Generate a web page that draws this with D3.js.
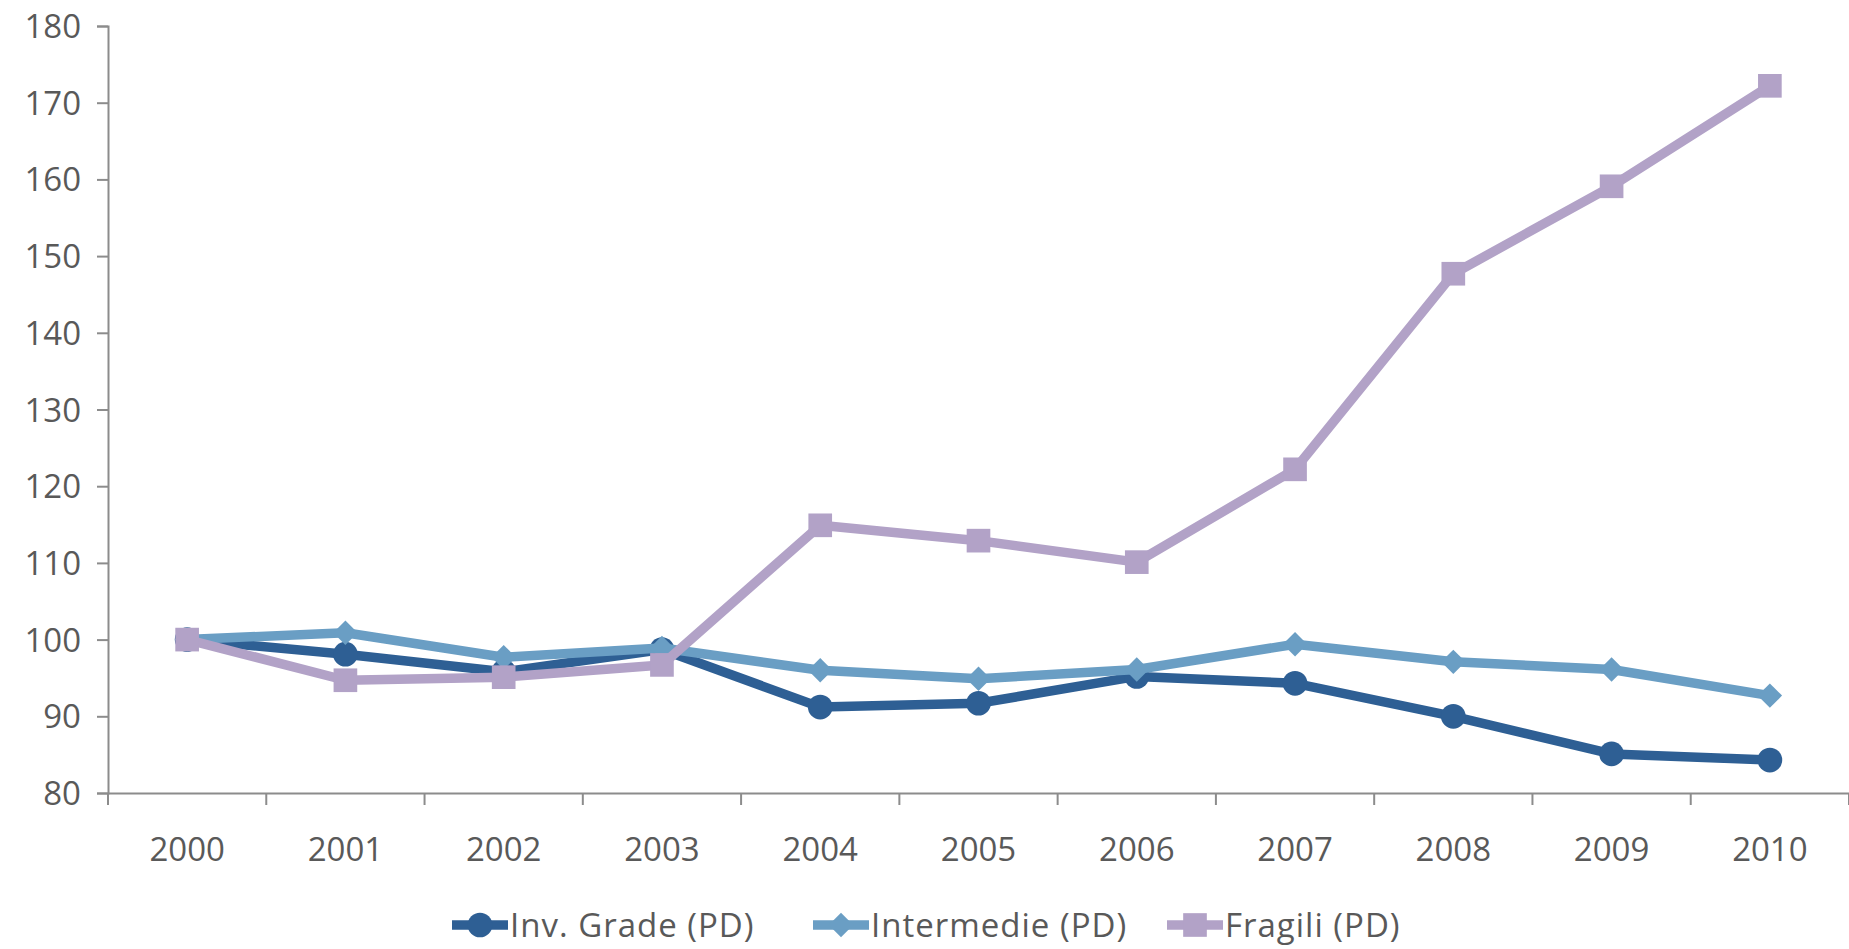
<!DOCTYPE html>
<html>
<head>
<meta charset="utf-8">
<script src="https://cdn.jsdelivr.net/npm/d3@7"></script>
<style>
  body { margin: 0; background: #fff; }
  text { font-family: "Open Sans", sans-serif; fill: #595959; }
</style>
</head>
<body>
<div id="chart"></div>
<script>
'use strict';

// Dati
var years = ['2000', '2001', '2002', '2003', '2004', '2005', '2006', '2007', '2008', '2009', '2010'];
var invGrade = [100, 98.1, 95.8, 98.7, 91.2, 91.7, 95.2, 94.3, 90.0, 85.1, 84.3];
var intermedie = [100, 100.9, 97.7, 98.9, 96.0, 94.9, 96.1, 99.4, 97.1, 96.1, 92.7];
var fragili = [100, 94.7, 95.1, 96.7, 114.9, 112.9, 110.1, 122.2, 147.7, 159.1, 172.2];
var seriesNames = ['Inv. Grade (PD)', 'Intermedie (PD)', 'Fragili (PD)'];
var yTicks = [80, 90, 100, 110, 120, 130, 140, 150, 160, 170, 180];

var series = [
  { name: seriesNames[0], values: invGrade, color: '#2E5F94', symbol: d3.symbolCircle, size: 480 },
  { name: seriesNames[1], values: intermedie, color: '#6A9EC4', symbol: d3.symbolDiamond2, size: 380 },
  { name: seriesNames[2], values: fragili, color: '#B2A2C7', symbol: d3.symbolSquare, size: 560 }
];

var width = 1849, height = 949;
var margin = { top: 26, right: 0, bottom: 156, left: 108 };

var svg = d3.select('#chart').append('svg')
  .attr('width', width).attr('height', height);

var x = d3.scaleBand().domain(years)
  .range([margin.left, width - margin.right]);
var y = d3.scaleLinear().domain([80, 180])
  .range([height - margin.bottom, margin.top]);

// Asse Y
var yAxis = svg.append('g')
  .attr('transform', 'translate(' + margin.left + ',0)')
  .call(d3.axisLeft(y).tickValues(yTicks).tickSize(11).tickPadding(16));
yAxis.selectAll('text').style('font-size', '33px').attr('dy', '0.35em');

// Asse X
var xAxis = svg.append('g')
  .attr('transform', 'translate(0,' + (height - margin.bottom) + ')')
  .call(d3.axisBottom(x).tickSize(0).tickPadding(45));
xAxis.selectAll('text').style('font-size', '33px');
xAxis.selectAll('.xtick')
  .data(years.concat(['end']))
  .enter().append('line')
  .attr('x1', function (d, i) { return margin.left + i * x.step(); })
  .attr('x2', function (d, i) { return margin.left + i * x.step(); })
  .attr('y1', 0).attr('y2', 12);

svg.selectAll('.domain, .tick line, g line')
  .attr('stroke', '#8C8C8C').attr('stroke-width', 2);

var line = d3.line()
  .x(function (d, i) { return x(years[i]) + x.bandwidth() / 2; })
  .y(function (d) { return y(d); });

// Linee e marcatori
series.forEach(function (s) {
  var g = svg.append('g');
  g.append('path')
    .attr('d', line(s.values))
    .attr('fill', 'none')
    .attr('stroke', s.color)
    .attr('stroke-width', 9.5)
    .attr('stroke-linejoin', 'round');
  g.selectAll('path.mk')
    .data(s.values)
    .enter().append('path')
    .attr('class', 'mk')
    .attr('d', d3.symbol().type(s.symbol).size(s.size))
    .attr('transform', function (d, i) {
      return 'translate(' + (x(years[i]) + x.bandwidth() / 2) + ',' + y(d) + ')';
    })
    .attr('fill', s.color);
});

// Legenda
var legendX = [452, 813, 1167];
var legend = svg.append('g').attr('transform', 'translate(0,925)');
series.forEach(function (s, i) {
  var lg = legend.append('g').attr('transform', 'translate(' + legendX[i] + ',0)');
  lg.append('line')
    .attr('x1', 0).attr('x2', 56).attr('y1', 0).attr('y2', 0)
    .attr('stroke', s.color).attr('stroke-width', 9.5);
  lg.append('path')
    .attr('d', d3.symbol().type(s.symbol).size(s.size))
    .attr('transform', 'translate(28,0)')
    .attr('fill', s.color);
  lg.append('text')
    .attr('x', 58).attr('dy', '0.36em')
    .style('font-size', '33px')
    .style('letter-spacing', '1px')
    .text(s.name);
});
</script>
</body>
</html>
